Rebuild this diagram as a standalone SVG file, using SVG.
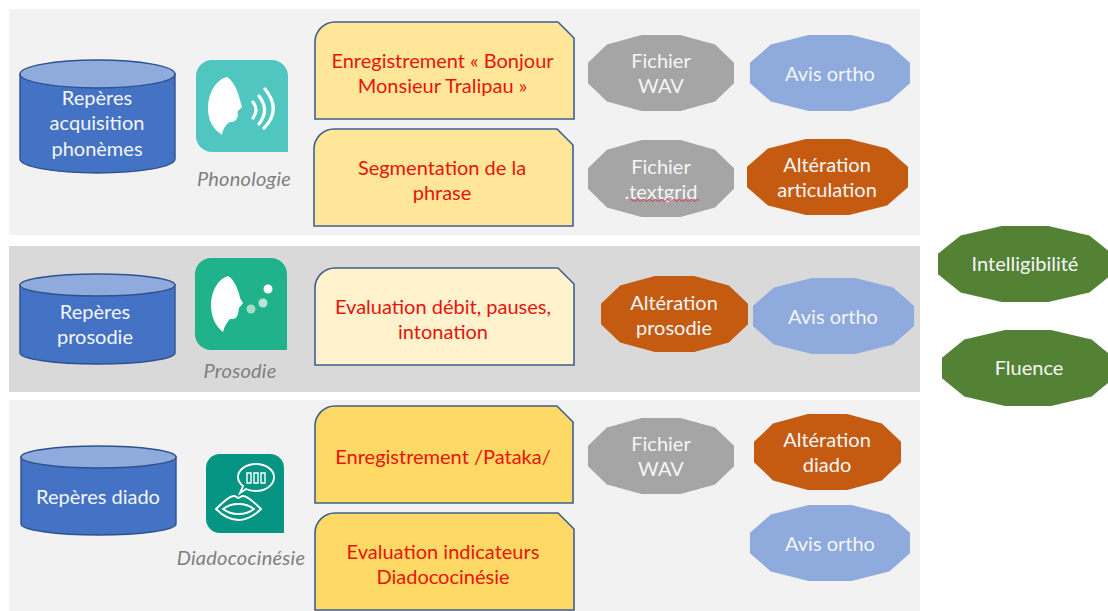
<svg xmlns="http://www.w3.org/2000/svg" width="1108" height="611" viewBox="0 0 1108 611">
<style>
text{font-family:"Lato","Carlito","Liberation Sans",sans-serif;font-size:20px;text-anchor:middle}
.w{fill:#f4f6f8}.r{fill:#e8140c}.l{fill:#7f7f7f;font-style:italic;letter-spacing:.25px}
.snip{stroke:#3f5f8f;stroke-width:1.6}
.cyl{fill:#4472c4;stroke:#2f528f;stroke-width:1.4}
.top{fill:#8faadc;stroke:#2f528f;stroke-width:1.4}
.gray{fill:#a5a5a5}.blue{fill:#8faadc}.or{fill:#c55a11}.gr{fill:#548235}
.arc{fill:none;stroke:#fff;stroke-width:3.200;stroke-linecap:round}
.ln{fill:none;stroke:#fff;stroke-width:1.900}
</style>
<defs>
<polygon id="dodeca" points="0,.366 .13,.125 .366,0 .634,0 .87,.125 1,.366 1,.634 .87,.875 .634,1 .366,1 .13,.875 0,.634"/>
</defs>
<g id="panels">
<rect x="9" y="9" width="911" height="226" fill="#f2f2f2"/>
<rect x="9" y="246" width="911" height="146" fill="#d9d9d9"/>
<rect x="9" y="400" width="911" height="211" fill="#f2f2f2"/>
</g>
<g id="connectors"/>
<g id="cyl1">
<path class="cyl" d="M20 74V159A77.5 14 0 0 0 175 159V74Z"/><ellipse class="top" cx="97.500" cy="74" rx="77.500" ry="14"/>
<text class="w" x="97" y="105">Repères</text><text class="w" x="97" y="130">acquisition</text><text class="w" x="97" y="156">phonèmes</text>
</g>
<g id="cyl2">
<path class="cyl" d="M20 285V353A77.500 11 0 0 0 175 353V285Z"/><ellipse class="top" cx="97.500" cy="285" rx="77.500" ry="11"/>
<text class="w" x="95" y="319">Repères</text><text class="w" x="95" y="344">prosodie</text>
</g>
<g id="cyl3">
<path class="cyl" d="M21 457V524A77.500 11 0 0 0 176 524V457Z"/><ellipse class="top" cx="98.500" cy="457" rx="77.500" ry="11"/>
<text class="w" x="98" y="504">Repères diado</text>
</g>
<g id="icon-phonologie">
<path fill="#4fc7c0" d="M212 60H272A16 16 0 0 1 288 76V152H212A16 16 0 0 1 196 136V76A16 16 0 0 1 212 60Z"/>
<path fill="#fff" d="M227 77C234 81 238 92 240 100L242 107L237.500 111.500L238 116L236 120C234 122 232 122 230 122C226 124 223 129 222 135C213 129 208 120 208 109C208 94 215 80 227 77Z"/>
<path class="arc" d="M253 102Q259 110 253 118M259 96Q270 110 259 124M265 89Q282 110 264 128"/>
<text class="l" x="244" y="186">Phonologie</text>
</g>
<g id="icon-prosodie">
<path fill="#20b28a" d="M211 258H271A16 16 0 0 1 287 274V350H211A16 16 0 0 1 195 334V274A16 16 0 0 1 211 258Z"/>
<path fill="#fff" d="M228 276C235 280 239 292 240 298L243 303L239 308L238 314L236 318C234 319 232 319 230 319C226 323 224 328 223 332C215 326 211 316 211 305C211 291 218 279 228 276Z"/>
<circle cx="268" cy="289" r="4.500" fill="#fff"/><circle cx="263" cy="303" r="4.500" fill="#b5e6d6"/><circle cx="251" cy="309" r="4.500" fill="#a2dfca"/>
<text class="l" x="240" y="378">Prosodie</text>
</g>
<g id="icon-diado">
<path fill="#069583" d="M220 454H270A14 14 0 0 1 284 468V533H220A14 14 0 0 1 206 519V468A14 14 0 0 1 220 454Z"/>
<path class="ln" d="M240 493L243 486C239 483 238 480 238 477C238 470 246 464 256 464C266 464 274 470 274 477C274 485 266 491 256 491C251 491 248 490 246 489Z"/>
<path class="ln" style="stroke-width:1.400" d="M247 473h4v10h-4zM254 473h4v10h-4zM261 473h4v10h-4z"/>
<path class="ln" d="M216 509C222 503 230 496 234 496C236 496 237 498 238.500 498C240 498 241 496 243 496C247 496 255 503 261 509C255 515 247 520 238.500 520C230 520 222 515 216 509Z"/>
<path class="ln" d="M223 509C228 505 233 504 238.500 504C244 504 249 505 254 509C249 513 244 514 238.500 514C233 514 228 513 223 509Z"/>
<text class="l" x="241" y="565">Diadococinésie</text>
</g>
<g id="step1">
<path class="snip" fill="#ffe699" d="M335 22H558L574 38V119H315V42A20 20 0 0 1 335 22Z"/>
<text class="r" x="442.500" y="68">Enregistrement « Bonjour</text><text class="r" x="442.500" y="93">Monsieur Tralipau »</text>
</g>
<g id="step2">
<path class="snip" fill="#ffe699" d="M334 129H557L573 145V226H314V149A20 20 0 0 1 334 129Z"/>
<text class="r" x="442" y="175">Segmentation de la</text><text class="r" x="442" y="200">phrase</text>
</g>
<g id="step3">
<path class="snip" fill="#fff2cc" d="M335 268H558L574 284V365H315V288A20 20 0 0 1 335 268Z"/>
<text class="r" x="443" y="314">Evaluation débit, pauses,</text><text class="r" x="443" y="339">intonation</text>
</g>
<g id="step4">
<path class="snip" fill="#ffd966" d="M335 406H557L573 422V503H315V426A20 20 0 0 1 335 406Z"/>
<text class="r" x="443" y="464">Enregistrement /Pataka/</text>
</g>
<g id="step5">
<path class="snip" fill="#ffd966" d="M335 513H558L574 529V610H315V533A20 20 0 0 1 335 513Z"/>
<text class="r" x="443" y="559">Evaluation indicateurs</text><text class="r" x="443" y="584">Diadococinésie</text>
</g>
<g id="wav1">
<use href="#dodeca" class="gray" transform="translate(588 35) scale(146 76)"/>
<text class="w" x="661" y="68">Fichier</text><text class="w" x="661" y="93">WAV</text>
</g>
<g id="avis1">
<use href="#dodeca" class="blue" transform="translate(750 35) scale(160 76)"/>
<text class="w" x="830" y="81">Avis ortho</text>
</g>
<g id="textgrid">
<use href="#dodeca" class="gray" transform="translate(588 140) scale(146 77)"/>
<text class="w" x="661" y="174">Fichier</text><text class="w" x="661" y="199">.textgrid</text>
<path fill="none" stroke="#d8304a" stroke-width="1" d="M630 200.500q1.500-2 3 0t3 0t3 0t3 0t3 0t3 0t3 0t3 0t3 0t3 0t3 0t3 0t3 0t3 0t3 0t3 0t3 0t3 0t3 0t3 0t3 0t3 0t3 0"/>
</g>
<g id="alt-articulation">
<use href="#dodeca" class="or" transform="translate(747 139) scale(161 76)"/>
<text class="w" x="827" y="172">Altération</text><text class="w" x="827" y="197">articulation</text>
</g>
<g id="alt-prosodie">
<use href="#dodeca" class="or" transform="translate(601 276) scale(147 76)"/>
<text class="w" x="674" y="310">Altération</text><text class="w" x="674" y="335">prosodie</text>
</g>
<g id="avis2">
<use href="#dodeca" class="blue" transform="translate(753 278) scale(161 76)"/>
<text class="w" x="833" y="324">Avis ortho</text>
</g>
<g id="wav3">
<use href="#dodeca" class="gray" transform="translate(588 418) scale(146 76)"/>
<text class="w" x="661" y="451">Fichier</text><text class="w" x="661" y="476">WAV</text>
</g>
<g id="alt-diado">
<use href="#dodeca" class="or" transform="translate(754 414) scale(147 76)"/>
<text class="w" x="827" y="447">Altération</text><text class="w" x="827" y="472">diado</text>
</g>
<g id="avis3">
<use href="#dodeca" class="blue" transform="translate(750 505) scale(160 76)"/>
<text class="w" x="830" y="551">Avis ortho</text>
</g>
<g id="intelligibilite">
<use href="#dodeca" class="gr" transform="translate(938 226) scale(174 76)"/>
<text class="w" x="1025" y="271">Intelligibilité</text>
</g>
<g id="fluence">
<use href="#dodeca" class="gr" transform="translate(942 330) scale(172 76)"/>
<text class="w" x="1029" y="375">Fluence</text>
</g>
</svg>
